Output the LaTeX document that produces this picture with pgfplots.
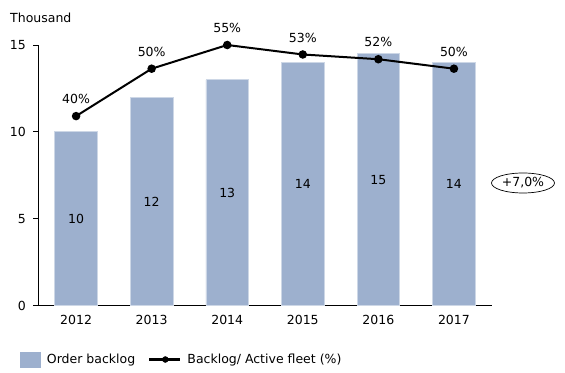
\documentclass[border=0pt]{standalone}
\usepackage{pgfplots}
\pgfplotsset{compat=1.18}
\usepackage{fontspec}
\setmainfont{DejaVu Sans}
\usetikzlibrary{shapes.geometric}
\definecolor{barblue}{RGB}{157,176,206}
\definecolor{baredge}{RGB}{205,215,230}
\begin{document}
\begin{tikzpicture}[font=\fontsize{12.5bp}{15bp}\selectfont]
\useasboundingbox (0,0) rectangle (565bp,373bp);
\begin{axis}[
  at={(38.3bp,67.3bp)}, anchor=south west,
  scale only axis, width=453.4bp, height=260.7bp,
  xmin=-0.5, xmax=5.5, ymin=0, ymax=15,
  axis x line*=bottom, axis y line*=left,
  axis line style={line width=0.9bp, -},
  xtick={0,1,2,3,4,5}, xticklabels={2012,2013,2014,2015,2016,2017},
  ytick={0,5,10,15},
  tick align=outside, major tick length=5bp,
  tick style={line width=0.9bp, black},
  x tick style={draw=none},
  /pgf/number format/assume math mode=true,
  yticklabel style={xshift=-4bp},
  xticklabel style={yshift=-1bp},
  legend columns=2,
  legend style={at={(-0.0404,-0.2064)}, anchor=west, draw=none, fill=none,
    inner sep=0pt, column sep=6bp, nodes={inner sep=0pt},
    /tikz/every even column/.append style={column sep=13bp}},
  clip=false,
]
\addplot[ybar, bar width=42.5bp, fill=barblue, draw=baredge, line width=0.8bp,
  legend image code/.code={\fill[barblue] (0bp,-7.5bp) rectangle (20bp,7.5bp);}]
  coordinates {(0,10) (1,12) (2,13) (3,14) (4,14.5) (5,14)};
\addlegendentry{Order backlog}
\addplot[forget plot, draw=none, mark=none, nodes near coords, nodes near coords align=center,
  point meta=explicit symbolic]
  coordinates {(0,5)[10] (1,6)[12] (2,6.5)[13] (3,7)[14] (4,7.25)[15] (5,7)[14]};
\addlegendimage{legend image code/.code={\draw[black,line width=2.2bp] (0bp,0bp) -- (31bp,0bp); \fill[black] (16bp,0bp) circle (3bp);}}
\addlegendentry{Backlog/ Active fleet (\%)}
\end{axis}
\begin{axis}[
  at={(38.3bp,67.3bp)}, anchor=south west,
  scale only axis, width=453.4bp, height=260.7bp,
  xmin=-0.5, xmax=5.5, ymin=0, ymax=55,
  hide axis, clip=false,
]
\addplot[black, line width=2bp, mark=*, mark size=3.2bp,
  nodes near coords, nodes near coords align=center,
  every node near coord/.append style={yshift=17bp},
  point meta=explicit symbolic]
  coordinates {(0,40)[40\%] (1,50)[50\%] (2,55)[55\%] (3,53)[53\%] (4,52)[52\%] (5,50)[50\%]};
\end{axis}
\node[anchor=west, inner sep=0pt] at (10bp,354.7bp) {Thousand};
\node[draw, ellipse, line width=0.7bp, inner sep=0pt, minimum width=63bp, minimum height=20bp] at (523bp,190bp) {+7,0\%};
\end{tikzpicture}
\end{document}
